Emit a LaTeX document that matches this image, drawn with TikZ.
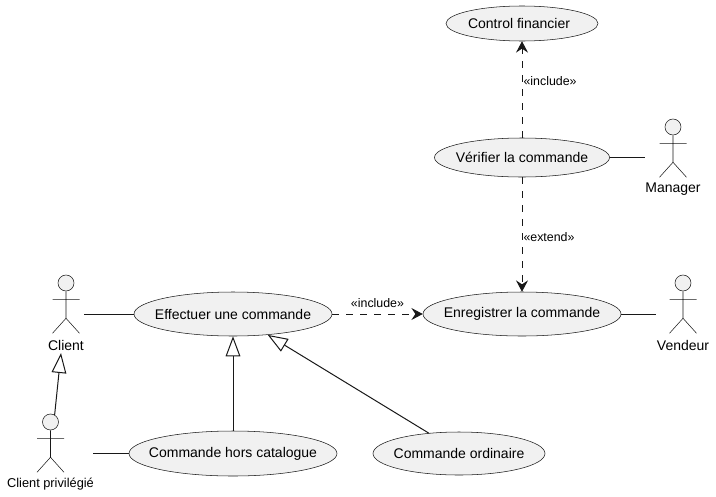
\documentclass[tikz,border=0pt]{standalone}
\usepackage{fontspec}
\setmainfont{Liberation Sans}
\usepackage{tikz}
\usetikzlibrary{arrows.meta}
\usetikzlibrary{shapes.geometric}
\definecolor{use_case_fill}{HTML}{F1F1F1}
\definecolor{line_black}{HTML}{181818}
\tikzstyle{use_case} = [ellipse, draw = line_black, line width = 0.4pt, fill = use_case_fill, inner sep = 0, font = \fontsize{10.5}{12}\selectfont]
\tikzstyle{actor_head} = [circle, draw = line_black, line width = 0.4pt, fill = use_case_fill, minimum size = 12pt, inner sep = 0]
\tikzstyle{actor_body} = [draw = line_black, line width = 0.4pt]
\tikzstyle{actor_label} = [inner sep = 0, font = \fontsize{10.5}{12}\selectfont]
\tikzstyle{link_label} = [inner sep = 0, text = black, font = \fontsize{9.3}{10}\selectfont]
\tikzstyle{plain_link} = [draw = line_black, line width = 0.75pt]
\tikzstyle{dep_link} = [plain_link, dash pattern = on 5.25pt off 5.25pt, -{Stealth[length = 8.5pt, width = 9pt, inset = 3pt]}]
\tikzstyle{gen_link} = [plain_link, -{Triangle[open, length = 15pt, width = 11pt]}]
\newcommand{\casetext}[1]{\makebox[0pt]{#1}}
\newcommand{\actorfig}[4]{
    \node [style = {actor_head}] (#1_head) at (#2, #3) {};
    \draw [style = {actor_body}] (#1_head.south) -- ++(0, 27) ++(-13.5, -19) -- ++(27, 0) ++(-13.5, 19) -- ++(-13.5, 15) ++(13.5, -15) -- ++(13.5, 15);
    \node [style = {actor_label}] (#1_label) at (#2, #3 + 62) {#4};
}

\begin{document}
\begin{tikzpicture}[x = 0.75pt, y = -0.75pt]
    \useasboundingbox (0, 0) rectangle (716, 496);
    % use cases
    \node [style = {use_case}, minimum width = 148.5pt, minimum height = 33pt] (effectuer) at (233, 314) {\casetext{Effectuer une commande}};
    \node [style = {use_case}, minimum width = 156pt, minimum height = 33.75pt] (hors_catalogue) at (233, 453.5) {\casetext{Commande hors catalogue}};
    \node [style = {use_case}, minimum width = 129pt, minimum height = 32.25pt] (ordinaire) at (459, 453.5) {\casetext{Commande ordinaire}};
    \node [style = {use_case}, minimum width = 148.5pt, minimum height = 33pt] (enregistrer) at (522, 314) {\casetext{Enregistrer la commande}};
    \node [style = {use_case}, minimum width = 131.25pt, minimum height = 29.25pt] (verifier) at (522, 157.5) {\casetext{Vérifier la commande}};
    \node [style = {use_case}, minimum width = 114pt, minimum height = 26.25pt] (control) at (522, 23.5) {\casetext{Control financier\hspace{4.5pt}}};
    % actors
    \actorfig{client}{66}{283}{Client}
    \actorfig{privilegie}{50.5}{422}{\fontsize{9.6}{12}\selectfont Client privilégié}
    \actorfig{manager}{673}{127}{Manager}
    \actorfig{vendeur}{683}{283}{Vendeur}
    % free ends
    \coordinate (client_end) at (84, 314);
    \coordinate (client_tip) at (61, 353);
    \coordinate (privilegie_end) at (93, 453.5);
    \coordinate (manager_end) at (645, 157.5);
    \coordinate (vendeur_end) at (656, 314);
    % links
    \draw [style = {plain_link}] (client_end) -- (effectuer.west);
    \draw [style = {plain_link}] (privilegie_end) -- (hors_catalogue.west);
    \draw [style = {plain_link}] (verifier.east) -- (manager_end);
    \draw [style = {plain_link}] (enregistrer.east) -- (vendeur_end);
    \draw [style = {gen_link}] (privilegie_head.60) -- (client_tip);
    \draw [style = {gen_link}] (hors_catalogue.north) -- (effectuer.south);
    \draw [style = {gen_link}] (ordinaire.146) -- (effectuer.-31);
    \draw [style = {dep_link}] (effectuer.east) -- node [style = {link_label}, pos = 0.5, yshift = 8.25pt] (include_one) {«include»} (enregistrer.west);
    \draw [style = {dep_link}] (verifier.south) -- node [style = {link_label}, anchor = west, pos = 0.52, xshift = 0.75pt] (extend_one) {«extend»} (enregistrer.north);
    \draw [style = {dep_link}] (verifier.north) -- node [style = {link_label}, anchor = west, pos = 0.59, xshift = 0.75pt] (include_two) {«include»} (control.south);
\end{tikzpicture}
\end{document}
